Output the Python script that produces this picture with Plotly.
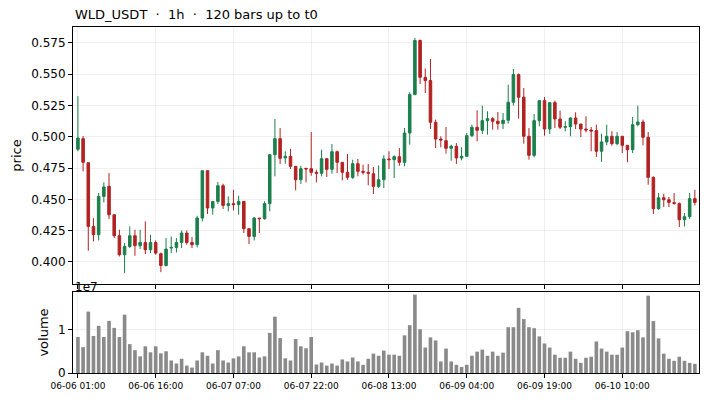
import plotly.graph_objects as go
from plotly.subplots import make_subplots

# hourly candles (index 0..119)
opens = [
    0.490, 0.4985, 0.4793, 0.4284, 0.4218, 0.4524, 0.4604, 0.4377, 0.421, 0.4058,
    0.4124, 0.421, 0.413, 0.4156, 0.4098, 0.4156, 0.4066, 0.3972, 0.4111, 0.4116,
    0.4156, 0.4231, 0.4156, 0.4138, 0.4351, 0.4729, 0.4431, 0.4484, 0.4609, 0.4452,
    0.4466, 0.4458, 0.4484, 0.4266, 0.4204, 0.4351, 0.4346, 0.4466, 0.4857, 0.4985,
    0.4831, 0.4844, 0.4764, 0.4657, 0.4748, 0.4745, 0.4716, 0.4708, 0.4825, 0.474,
    0.4881, 0.4796, 0.4716, 0.4676, 0.4785, 0.4724, 0.4716, 0.4705, 0.4604, 0.4657,
    0.4823, 0.4817, 0.4841, 0.4796, 0.5030, 0.5337, 0.5769, 0.5475, 0.5449, 0.5116,
    0.4982, 0.4969, 0.4908, 0.4924, 0.4831, 0.4844, 0.5009, 0.5076, 0.5052, 0.5129,
    0.5145, 0.5124, 0.5105, 0.5132, 0.5276, 0.5497, 0.5316, 0.5004, 0.4852, 0.5129,
    0.5289, 0.5062, 0.5273, 0.5142, 0.5076, 0.5081, 0.515, 0.5102, 0.5062, 0.5054,
    0.5049, 0.4884, 0.4959, 0.5004, 0.4945, 0.5004, 0.4932, 0.4897, 0.5097, 0.5118,
    0.4996, 0.4676, 0.4425, 0.4513, 0.4497, 0.4474, 0.4466, 0.4338, 0.4362, 0.4506,
]
highs = [
    0.5324, 0.5006, 0.4793, 0.435, 0.4551, 0.4636, 0.4711, 0.4377, 0.4258, 0.4151,
    0.4284, 0.4258, 0.4258, 0.4324, 0.4218, 0.4172, 0.4075, 0.4191, 0.4204, 0.4191,
    0.4252, 0.4252, 0.4199, 0.437, 0.4729, 0.4729, 0.4484, 0.4639, 0.4625, 0.4524,
    0.4577, 0.4529, 0.4484, 0.4266, 0.4359, 0.4351, 0.4484, 0.4863, 0.5142, 0.507,
    0.4884, 0.4903, 0.4764, 0.4769, 0.4751, 0.5038, 0.4737, 0.4897, 0.4831, 0.4942,
    0.4889, 0.4796, 0.4863, 0.4817, 0.4823, 0.4777, 0.4783, 0.4759, 0.4772, 0.4852,
    0.4884, 0.4852, 0.4911, 0.507, 0.5356, 0.579, 0.5777, 0.5545, 0.5622, 0.5137,
    0.5004, 0.5078, 0.4937, 0.495, 0.4916, 0.503, 0.5097, 0.5212, 0.5249, 0.5204,
    0.5156, 0.5198, 0.519, 0.5417, 0.5542, 0.5505, 0.539, 0.507, 0.5182, 0.5289,
    0.5318, 0.5273, 0.5289, 0.5209, 0.5124, 0.5156, 0.5196, 0.5102, 0.5164, 0.5078,
    0.5097, 0.5025, 0.5097, 0.5044, 0.5038, 0.5004, 0.4932, 0.5158, 0.5249, 0.5137,
    0.5038, 0.4684, 0.4551, 0.4545, 0.4519, 0.4551, 0.4476, 0.4391, 0.4551, 0.4577,
]
lows = [
    0.4884, 0.4724, 0.409, 0.4164, 0.4172, 0.4476, 0.4343, 0.4191, 0.4044, 0.3911,
    0.4111, 0.405, 0.4103, 0.4063, 0.4071, 0.4058, 0.3919, 0.3964, 0.4071, 0.4076,
    0.4111, 0.4138, 0.4111, 0.4116, 0.4324, 0.4383, 0.4378, 0.4463, 0.4423, 0.4404,
    0.4412, 0.4378, 0.4231, 0.4143, 0.4172, 0.4231, 0.4338, 0.4404, 0.4684, 0.4783,
    0.4785, 0.4743, 0.4572, 0.4623, 0.4636, 0.4689, 0.4636, 0.4684, 0.4679, 0.4705,
    0.4711, 0.4652, 0.4657, 0.4663, 0.4684, 0.4697, 0.4612, 0.4543, 0.4591, 0.4591,
    0.4743, 0.4671, 0.4769, 0.4764, 0.4937, 0.5332, 0.5422, 0.535, 0.5062, 0.491,
    0.4916, 0.4865, 0.4809, 0.4783, 0.4812, 0.4839, 0.4998, 0.4964, 0.5022, 0.5017,
    0.5057, 0.5057, 0.5062, 0.5105, 0.5249, 0.5145, 0.4945, 0.4817, 0.4836, 0.5084,
    0.5009, 0.5022, 0.507, 0.5062, 0.5044, 0.5004, 0.5062, 0.4998, 0.5036, 0.4884,
    0.4839, 0.4799, 0.4932, 0.4929, 0.4932, 0.487, 0.4796, 0.487, 0.5084, 0.4932,
    0.4617, 0.4383, 0.4417, 0.4439, 0.4439, 0.4458, 0.4279, 0.4284, 0.4343, 0.4452,
]
closes = [
    0.499, 0.4796, 0.4284, 0.4218, 0.4524, 0.4599, 0.4377, 0.421, 0.4058, 0.4124,
    0.421, 0.413, 0.4156, 0.4098, 0.4156, 0.4071, 0.3972, 0.4103, 0.4116, 0.4156,
    0.4231, 0.4156, 0.4138, 0.4351, 0.4729, 0.4431, 0.4484, 0.4609, 0.4452, 0.4466,
    0.4458, 0.4484, 0.4266, 0.4204, 0.4351, 0.4346, 0.4466, 0.4857, 0.4985, 0.4828,
    0.4844, 0.4764, 0.4657, 0.4745, 0.4743, 0.4716, 0.4708, 0.4825, 0.474, 0.4881,
    0.4796, 0.4716, 0.4676, 0.4785, 0.4724, 0.4716, 0.4708, 0.4604, 0.4657, 0.4823,
    0.4817, 0.4841, 0.4796, 0.503, 0.5337, 0.5769, 0.5475, 0.5449, 0.5116, 0.4982,
    0.4974, 0.4908, 0.4924, 0.4831, 0.4844, 0.5009, 0.5076, 0.5052, 0.5129, 0.5145,
    0.5124, 0.5105, 0.5132, 0.5276, 0.5497, 0.5316, 0.5004, 0.4852, 0.5129, 0.5289,
    0.5062, 0.5273, 0.5142, 0.5076, 0.5081, 0.515, 0.5102, 0.5062, 0.5054, 0.5046,
    0.4884, 0.4959, 0.5004, 0.4945, 0.5004, 0.4932, 0.4897, 0.5097, 0.5118, 0.4996,
    0.4676, 0.4425, 0.4513, 0.4497, 0.4476, 0.4468, 0.4338, 0.4362, 0.4506, 0.4476,
]
volumes = [
    0.835, 0.60, 1.425, 0.86, 1.095, 0.835, 1.21, 1.047, 0.835, 1.354,
    0.67, 0.53, 0.386, 0.62, 0.48, 0.62, 0.457, 0.504, 0.29, 0.22,
    0.33, 0.173, 0.126, 0.29, 0.48, 0.40, 0.22, 0.53, 0.29, 0.244,
    0.34, 0.386, 0.62, 0.48, 0.48, 0.36, 0.386, 0.93, 1.307, 0.81,
    0.34, 0.29, 0.787, 0.62, 0.575, 0.835, 0.197, 0.244, 0.173, 0.22,
    0.173, 0.315, 0.268, 0.36, 0.268, 0.19, 0.33, 0.45, 0.40, 0.52,
    0.425, 0.425, 0.40, 0.874, 1.11, 1.82, 1.016, 0.59, 0.827, 0.756,
    0.268, 0.567, 0.268, 0.19, 0.142, 0.19, 0.40, 0.496, 0.543, 0.40,
    0.496, 0.40, 0.472, 1.063, 1.063, 1.512, 1.252, 1.063, 1.04, 0.85,
    0.685, 0.59, 0.425, 0.354, 0.354, 0.496, 0.33, 0.236, 0.354, 0.378,
    0.732, 0.567, 0.496, 0.425, 0.425, 0.59, 0.969, 0.945, 0.992, 0.827,
    1.795, 1.205, 0.803, 0.449, 0.33, 0.283, 0.378, 0.283, 0.236, 0.213,
]
volumes = [v * 1e7 for v in volumes]

bar_index = list(range(len(opens)))
tick_pos = [0, 15, 30, 45, 60, 75, 90, 105]
tick_labels = ["06-06 01:00", "06-06 16:00", "06-07 07:00", "06-07 22:00",
               "06-08 13:00", "06-09 04:00", "06-09 19:00", "06-10 10:00"]
price_ticks = [0.400, 0.425, 0.450, 0.475, 0.500, 0.525, 0.550, 0.575]

GREEN = "#1a7f4b"
RED = "#b22222"
GRID = "rgba(0,0,0,0.06)"
FONT = "DejaVu Sans"

fig = make_subplots(rows=2, cols=1, shared_xaxes=True, vertical_spacing=0.0)

fig.add_trace(go.Candlestick(
    x=bar_index, open=opens, high=highs, low=lows, close=closes,
    increasing=dict(line=dict(color=GREEN, width=1), fillcolor=GREEN),
    decreasing=dict(line=dict(color=RED, width=1), fillcolor=RED),
    whiskerwidth=0, showlegend=False,
), row=1, col=1)

fig.add_trace(go.Bar(
    x=bar_index, y=volumes, marker_color="#8a8a8a", marker_line_width=0,
    width=0.7, showlegend=False,
), row=2, col=1)

axis_common = dict(
    showline=True, linecolor="black", linewidth=1, mirror=True,
    ticks="outside", ticklen=4, tickcolor="black",
    showgrid=True, gridcolor=GRID, gridwidth=1, zeroline=False,
)

fig.update_xaxes(
    range=[-0.95, 119.8], tickvals=tick_pos, ticktext=tick_labels,
    rangeslider_visible=False, **axis_common,
)
fig.update_xaxes(showticklabels=False, domain=[0, 1], row=1, col=1)
fig.update_xaxes(tickfont=dict(size=9, color="black"), row=2, col=1)

fig.update_yaxes(
    range=[0.3824, 0.5877], tickvals=price_ticks, tickformat=".3f",
    tickfont=dict(size=12, color="black"), domain=[0.2572, 1],
    title=dict(text="price", font=dict(size=13, color="black"), standoff=6),
    **axis_common, row=1, col=1,
)
fig.update_yaxes(
    range=[0, 1.88e7], tickvals=[0, 1e7], ticktext=["0", "1"],
    tickfont=dict(size=12, color="black"), domain=[0, 0.2341],
    title=dict(text="volume", font=dict(size=13, color="black"), standoff=6),
    **axis_common, row=2, col=1,
)

fig.add_annotation(
    text="WLD_USDT \u00a0·\u00a0 1h \u00a0·\u00a0 120 bars up to t0",
    xref="paper", yref="paper", x=0, y=1, xanchor="left", yanchor="bottom",
    yshift=3, showarrow=False, font=dict(size=13, color="black"),
)
fig.add_annotation(
    text="1e7", xref="paper", yref="paper", x=0, y=0.2341,
    xanchor="left", yanchor="bottom", yshift=-4, showarrow=False,
    font=dict(size=12, color="black"),
)

# the page body keeps the browser's 8px margin, so the figure is 8px smaller
fig.update_layout(
    width=700, height=392,
    margin=dict(l=64, r=8, t=19, b=27),
    paper_bgcolor="white", plot_bgcolor="white",
    font=dict(family=FONT, color="black"),
    bargap=0.3,
)

fig.write_html("out.html")
